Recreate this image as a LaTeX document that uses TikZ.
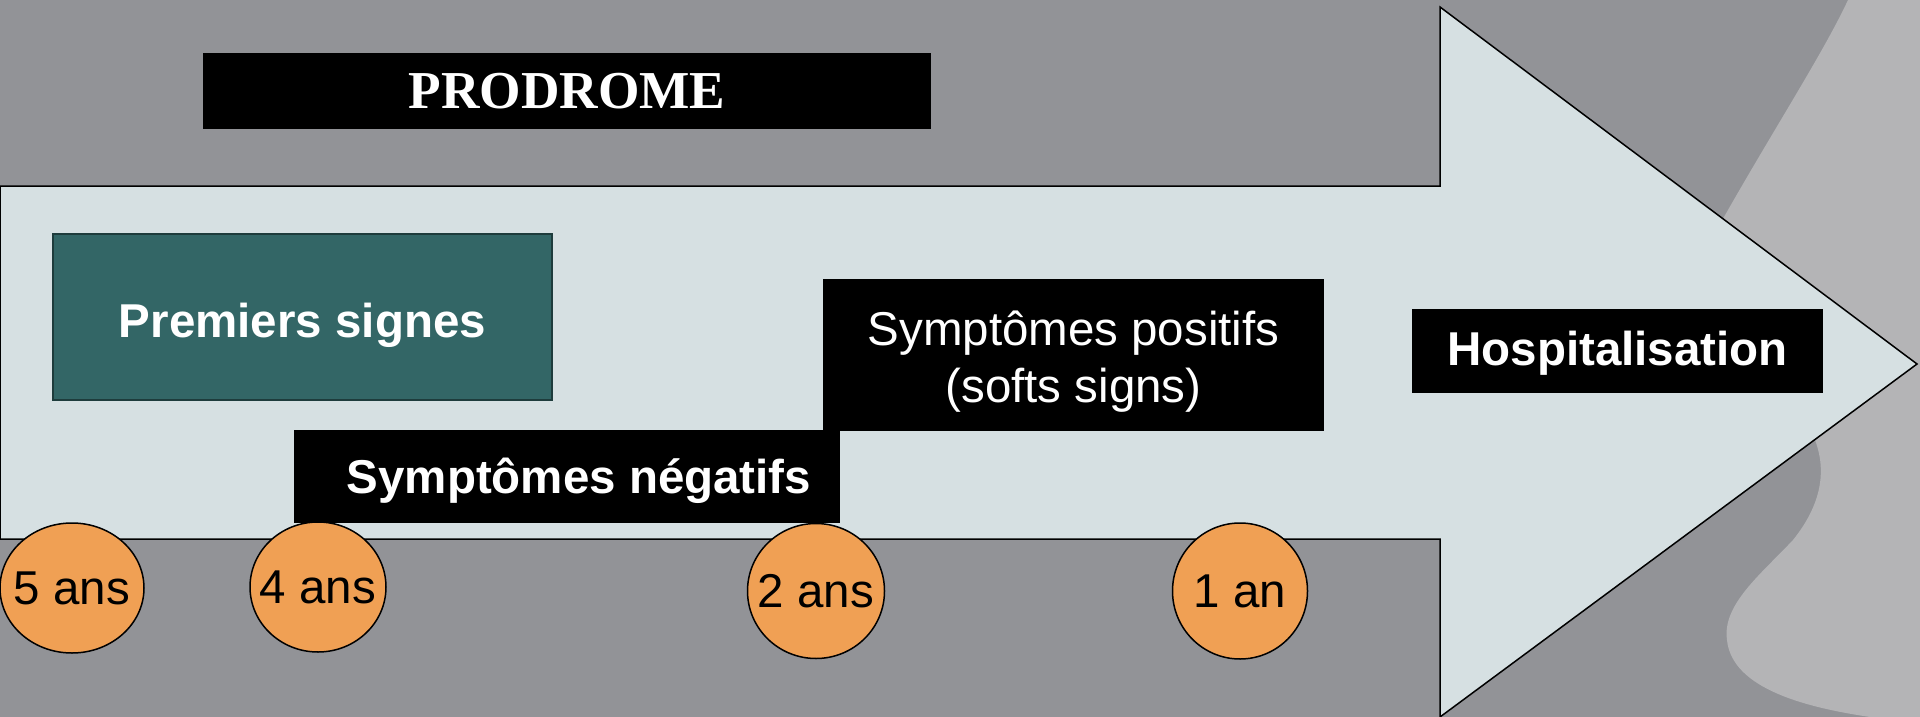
\documentclass[tikz,border=0pt]{standalone}
\usepackage{fontspec}
\setmainfont{Liberation Sans}
\newfontfamily\serifbold{Liberation Serif}
\usetikzlibrary{shapes.geometric}
\definecolor{bgdark}{HTML}{929397}
\definecolor{bglight}{HTML}{B4B4B6}
\definecolor{arrowfill}{HTML}{D6E0E2}
\definecolor{tealbox}{HTML}{336666}
\definecolor{tealedge}{HTML}{1E3C3C}
\definecolor{orangefill}{HTML}{F0A054}
\tikzset{
  blackbox/.style={fill=black, text=white, inner sep=0pt, align=center,
    font=\fontsize{47.5}{57}\selectfont},
  tealstyle/.style={fill=tealbox, draw=tealedge, line width=1.5pt, text=white,
    inner sep=0pt, font=\fontsize{47.5}{57}\selectfont\bfseries},
  yearmark/.style={ellipse, fill=orangefill, draw=black, line width=1.5pt,
    inner sep=0pt, text=black, font=\fontsize{47.5}{57}\selectfont},
}
\begin{document}
\begin{tikzpicture}[x=1pt,y=-1pt]
\useasboundingbox (0,0) rectangle (1920,717);
\clip (0,0) rectangle (1920,717);
% background
\fill[bgdark] (0,0) rectangle (1920,717);
\fill[bglight] (1848,0) .. controls (1820,60) and (1760,150) .. (1700,260)
  -- (1760,380) -- (1805,420)
  .. controls (1830,460) and (1825,500) .. (1793,540)
  .. controls (1760,575) and (1722,605) .. (1727,640)
  .. controls (1732,690) and (1810,708) .. (1870,717)
  -- (1920,717) -- (1920,0) -- cycle;
% big arrow
\draw[fill=arrowfill, draw=black, line width=1.5pt, line join=miter]
  (0,186) -- (1440,186) -- (1440,7) -- (1917,364) -- (1440,717) -- (1440,539) -- (0,539) -- cycle;
% boxes
\node[blackbox, minimum width=728, minimum height=76,
  font=\fontsize{53.3}{60}\selectfont\serifbold\bfseries] (prod) at (567,91) {PRODROME};
\node[tealstyle, minimum width=499, minimum height=166,
  text height=40pt, text depth=0pt] (prem) at (302.5,317) {Premiers signes};
\node[blackbox, minimum width=546, minimum height=93, text height=33.6pt, text depth=0pt,
  font=\fontsize{47.5}{57}\selectfont\bfseries] (neg) at (567,476.5) {\hspace*{24pt}Symptômes négatifs};
\node[blackbox, minimum width=501, minimum height=152] (pos) at (1073.5,355)
  {\rule{0pt}{47pt}Symptômes positifs\\(softs signs)};
\node[blackbox, minimum width=411, minimum height=84, text height=28pt, text depth=0pt,
  font=\fontsize{47.5}{57}\selectfont\bfseries] (hosp) at (1617.5,351) {Hospitalisation};
% year markers
\node[yearmark, minimum width=144, minimum height=130] (y5) at (72,588) {\makebox[0pt]{5 ans}};
\node[yearmark, minimum width=136, minimum height=130] (y4) at (318,587) {\makebox[0pt]{4 ans}};
\node[yearmark, minimum width=137, minimum height=135] (y2) at (816,591) {\makebox[0pt]{2 ans}};
\node[yearmark, minimum width=135, minimum height=136] (y1) at (1240,591) {\makebox[0pt]{1 an}};
\end{tikzpicture}
\end{document}
